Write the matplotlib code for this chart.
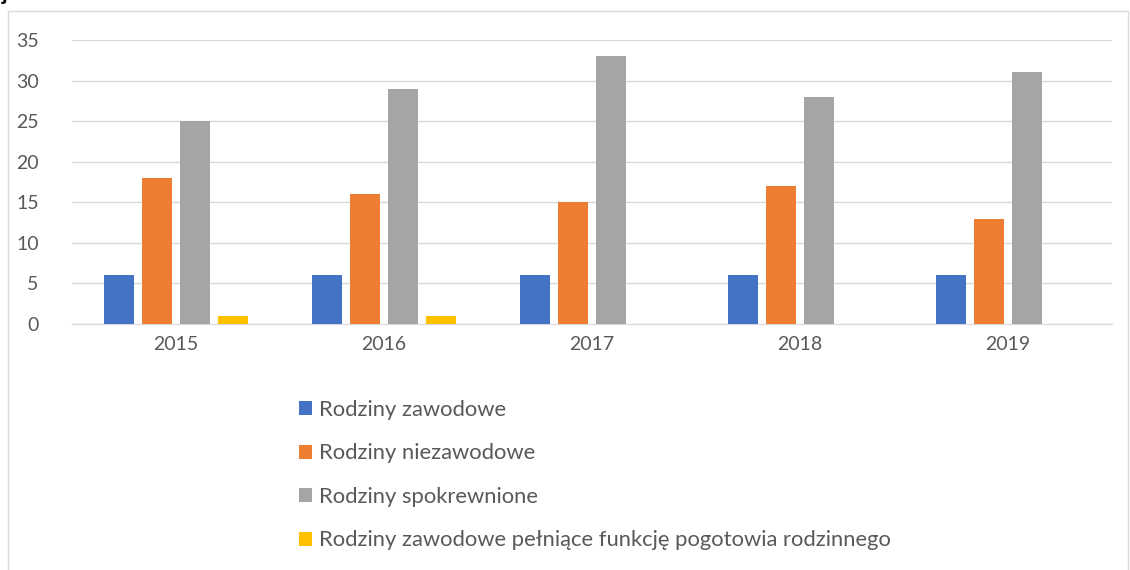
import numpy as np
import matplotlib.pyplot as plt
from matplotlib.patches import Rectangle

plt.rcParams['font.family'] = ['Lato', 'DejaVu Sans']

years = ['2015', '2016', '2017', '2018', '2019']
series_names = ['Rodziny zawodowe',
                'Rodziny niezawodowe',
                'Rodziny spokrewnione',
                'Rodziny zawodowe pełniące funkcję pogotowia rodzinnego']
zawodowe = [6, 6, 6, 6, 6]
niezawodowe = [18, 16, 15, 17, 13]
spokrewnione = [25, 29, 33, 28, 31]
pogotowie = [1, 1, 0, 0, 0]
colors = ['#4472C4', '#ED7D31', '#A5A5A5', '#FFC000']

W, H = 1130, 570
fig = plt.figure(figsize=(W / 100, H / 100), dpi=100)
ax = fig.add_axes([72 / W, 1 - 324 / H, (1112 - 72) / W, (324 - 40) / H])

# chart frame
fig.patches.append(Rectangle((8 / W, -0.01), (1128 - 8) / W, 1 - 11 / H + 0.01,
                             transform=fig.transFigure, fill=False,
                             edgecolor='#D9D9D9', linewidth=1))
# clipped text fragment at top-left
fig.text(2 / W, 1 + 6 / H, 'j', fontsize=16, fontweight='bold', color='black',
         va='center', ha='left')

x = np.arange(len(years))
step = 0.183
width = 0.142
handles = []
for i, (vals, c) in enumerate(zip([zawodowe, niezawodowe, spokrewnione, pogotowie], colors)):
    b = ax.bar(x + (i - 1.5) * step, vals, width, color=c, zorder=3)
    handles.append(b)

ax.set_xlim(-0.5, len(years) - 0.5)
ax.set_ylim(0, 35)
ax.set_yticks(range(0, 36, 5))
ax.set_xticks(x)
ax.set_xticklabels(years)
ax.yaxis.grid(True, color='#D9D9D9', linewidth=1, zorder=0)
for s in ['top', 'right', 'left']:
    ax.spines[s].set_visible(False)
ax.spines['bottom'].set_color('#D9D9D9')
ax.tick_params(axis='both', length=0, labelsize=14, colors='#595959')
ax.tick_params(axis='y', pad=24)
ax.tick_params(axis='x', pad=9)
for lab in ax.get_yticklabels():
    lab.set_horizontalalignment('right')

leg = fig.legend(handles, series_names, loc='upper left',
                 bbox_to_anchor=(288 / W, 1 - 389 / H), frameon=False,
                 fontsize=15.8, labelcolor='#595959', handlelength=0.6,
                 handleheight=0.6, handletextpad=0.3, labelspacing=1.07,
                 borderpad=0)

fig.savefig('out.png', dpi=100)
